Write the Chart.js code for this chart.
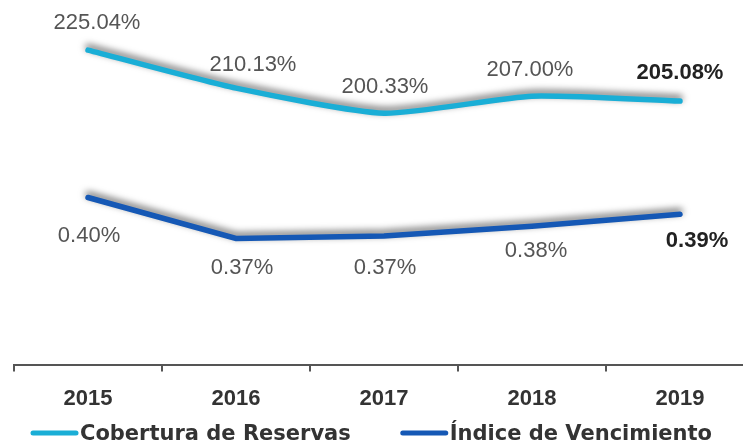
<!DOCTYPE html>
<html>
<head>
<meta charset="utf-8">
<script src="https://cdn.jsdelivr.net/npm/chart.js@4.4.1/dist/chart.umd.min.js"></script>
<style>
  html, body { margin: 0; padding: 0; background: #fff; overflow: hidden; }
  #wrap { width: 760px; height: 442px; position: relative; }
</style>
</head>
<body>
<div id="wrap"><canvas id="chart"></canvas></div>
<script>
const years = ['2015', '2016', '2017', '2018', '2019'];
const cobertura = [225.04, 210.13, 200.33, 207.00, 205.08];
const indice = [0.404, 0.370, 0.372, 0.380, 0.390];

const FONT = '"Liberation Sans", Arial, sans-serif';

// soft dark shadow under each line
const lineShadow = {
  id: 'lineShadow',
  beforeDatasetDraw(chart) {
    const c = chart.ctx;
    c.save();
    c.shadowColor = 'rgba(0,0,0,0.6)';
    c.shadowBlur = 7;
    c.shadowOffsetY = -3;
  },
  afterDatasetDraw(chart) {
    chart.ctx.restore();
  }
};

// value labels next to each point
const pointLabels = {
  id: 'pointLabels',
  afterDatasetsDraw(chart, args, opts) {
    const ctx = chart.ctx;
    chart.data.datasets.forEach((ds, i) => {
      const meta = chart.getDatasetMeta(i);
      const o = opts.sets[i];
      meta.data.forEach((pt, j) => {
        const last = j === ds.data.length - 1;
        ctx.save();
        ctx.font = (last ? 'bold ' : '') + '22px ' + FONT;
        ctx.fillStyle = last ? '#222' : '#555';
        ctx.textAlign = 'center';
        ctx.textBaseline = 'middle';
        ctx.fillText(ds.data[j].toFixed(2) + '%', pt.x + o.dx[j], pt.y + o.dy[j]);
        ctx.restore();
      });
    });
  }
};

// legend drawn by hand: line swatch touching the label
const bottomLegend = {
  id: 'bottomLegend',
  afterDraw(chart, args, opts) {
    const ctx = chart.ctx;
    let x = opts.x;
    chart.data.datasets.forEach(ds => {
      ctx.save();
      ctx.strokeStyle = ds.borderColor;
      ctx.lineWidth = 5;
      ctx.lineCap = 'round';
      ctx.beginPath();
      ctx.moveTo(x + 3, opts.y - 7);
      ctx.lineTo(x + opts.swatch - 2, opts.y - 7);
      ctx.stroke();
      ctx.font = 'bold 21px "DejaVu Sans", sans-serif';
      ctx.fillStyle = '#333';
      ctx.textBaseline = 'alphabetic';
      ctx.fillText(ds.label, x + opts.swatch + 2, opts.y);
      x += opts.swatch + 2 + ctx.measureText(ds.label).width + opts.gap;
      ctx.restore();
    });
  }
};

new Chart(document.getElementById('chart'), {
  type: 'line',
  data: {
    labels: years,
    datasets: [{
      label: 'Cobertura de Reservas',
      data: cobertura,
      yAxisID: 'y',
      borderColor: '#1aaed6',
      borderWidth: 5.5,
      borderCapStyle: 'round',
      tension: 0.2,
      pointRadius: 0
    }, {
      label: 'Índice de Vencimiento',
      data: indice,
      yAxisID: 'y2',
      borderColor: '#1558b5',
      borderWidth: 5.5,
      borderCapStyle: 'round',
      tension: 0,
      pointRadius: 0
    }]
  },
  options: {
    responsive: true,
    maintainAspectRatio: false,
    animation: false,
    layout: { padding: { left: 14, right: 6, top: 0, bottom: 16 } },
    plugins: {
      tooltip: { enabled: false },
      legend: { display: false },
      bottomLegend: { x: 30, y: 440, swatch: 48, gap: 49 },
      pointLabels: {
        sets: [
          { dx: [9, 17, 1, -2, 0], dy: [-27, -23, -26, -26, -28] },
          { dx: [1, 6, 1, 4, 17], dy: [38, 30, 32, 25, 27] }
        ]
      }
    },
    scales: {
      x: {
        offset: true,
        border: { color: '#555', width: 2 },
        grid: {
          offset: true,
          drawOnChartArea: false,
          drawTicks: true,
          tickLength: 7,
          color: '#555',
          lineWidth: 2
        },
        ticks: {
          color: '#333',
          padding: 14,
          font: { family: FONT, size: 22, weight: 'bold' }
        }
      },
      y: { display: false, min: 101.9, max: 244.65 },
      y2: { display: false, min: 0.265, max: 0.5683 }
    }
  },
  plugins: [lineShadow, pointLabels, bottomLegend]
});
</script>
</body>
</html>
